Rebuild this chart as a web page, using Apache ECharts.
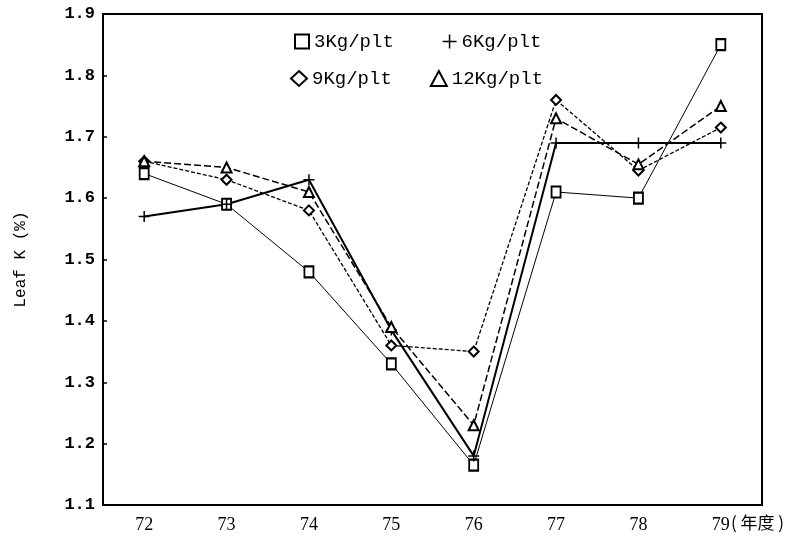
<!DOCTYPE html>
<html>
<head>
<meta charset="utf-8">
<script src="https://cdn.jsdelivr.net/npm/echarts@6/dist/echarts.min.js"></script>
<style>
  html, body { margin: 0; padding: 0; background: #fff; }
  #chart { width: 801px; height: 550px; }
</style>
</head>
<body>
<div id="chart"></div>
<script>
// Leaf potassium content by year for four fertiliser rates
const years = ['72', '73', '74', '75', '76', '77', '78', '79'];
const yTicks = [1.1, 1.2, 1.3, 1.4, 1.5, 1.6, 1.7, 1.8, 1.9];

const k3 = [1.64, 1.59, 1.48, 1.33, 1.165, 1.61, 1.60, 1.85];
const k6 = [1.57, 1.59, 1.63, 1.385, 1.18, 1.69, 1.69, 1.69];
const k9 = [1.66, 1.63, 1.58, 1.36, 1.35, 1.76, 1.645, 1.715];
const k12 = [1.66, 1.65, 1.61, 1.39, 1.23, 1.73, 1.655, 1.75];

const seriesNames = ['3Kg/plt', '6Kg/plt', '9Kg/plt', '12Kg/plt'];

const plusPath = 'path://M0,5L10,5M5,0L5,10';
const mono = '"Liberation Mono", "DejaVu Sans Mono", monospace';
const serif = '"Liberation Serif", "DejaVu Serif", serif';

const chart = echarts.init(document.getElementById('chart'), null, { renderer: 'canvas' });

function mkSeries(name, data, symbol, size, lineStyle) {
  return {
    name: name,
    type: 'line',
    data: data,
    symbol: symbol,
    symbolSize: size,
    showSymbol: true,
    animation: false,
    lineStyle: Object.assign({ color: '#000' }, lineStyle),
    itemStyle: { color: '#000', borderColor: '#000', borderWidth: 1.5 },
    z: 3
  };
}

const legendText = { fontFamily: mono, fontSize: 19, color: '#000' };

chart.setOption({
  backgroundColor: '#fff',
  animation: false,
  grid: { left: 103, right: 39, top: 14, bottom: 45, show: true, borderColor: '#000', borderWidth: 2 },
  legend: [
    {
      data: [
        { name: seriesNames[0], icon: 'emptyRect' },
        { name: seriesNames[1], icon: plusPath }
      ],
      left: 289, top: 27, itemWidth: 14, itemHeight: 14, itemGap: 48,
      textStyle: legendText, selectedMode: false,
      itemStyle: { borderColor: '#000', borderWidth: 1.5 }
    },
    {
      data: [
        { name: seriesNames[2], icon: 'emptyDiamond' },
        { name: seriesNames[3], icon: 'emptyTriangle' }
      ],
      left: 285, top: 64, itemWidth: 16, itemHeight: 15, itemGap: 38,
      textStyle: legendText, selectedMode: false,
      itemStyle: { borderColor: '#000', borderWidth: 1.5 }
    }
  ],
  xAxis: {
    type: 'category',
    data: years,
    boundaryGap: true,
    axisLine: { lineStyle: { color: '#000', width: 2 } },
    axisTick: { alignWithLabel: true, inside: true, length: 9, lineStyle: { color: '#000', width: 2 } },
    axisLabel: { color: '#000', fontFamily: serif, fontSize: 18, margin: 11 },
    splitLine: { show: false }
  },
  yAxis: {
    type: 'value',
    min: 1.1,
    max: 1.9,
    interval: 0.1,
    name: 'Leaf K (%)',
    nameLocation: 'middle',
    nameRotate: 90,
    nameGap: 74,
    nameTextStyle: { fontFamily: mono, fontSize: 16, color: '#000' },
    axisLine: { show: true, lineStyle: { color: '#000', width: 2 } },
    axisTick: { show: true, inside: true, length: 4, lineStyle: { color: '#000', width: 1.5 } },
    axisLabel: {
      color: '#000', fontFamily: mono, fontWeight: 'bold', fontSize: 17, margin: 8,
      formatter: function (v) { return v.toFixed(1); }
    },
    splitLine: { show: false }
  },
  graphic: [
    {
      type: 'text',
      left: 731, top: 514,
      style: { text: '( 年度 )', fontFamily: '"Noto Sans CJK SC", sans-serif', fontSize: 17, fill: '#000' }
    }
  ],
  series: [
    mkSeries(seriesNames[0], k3, 'emptyRect', [9, 11], { width: 1, type: 'solid' }),
    mkSeries(seriesNames[1], k6, plusPath, 11, { width: 2, type: 'solid' }),
    mkSeries(seriesNames[2], k9, 'emptyDiamond', 10, { width: 1.3, type: [4, 2] }),
    mkSeries(seriesNames[3], k12, 'emptyTriangle', 10, { width: 1.5, type: [7, 3] })
  ]
});
</script>
</body>
</html>
